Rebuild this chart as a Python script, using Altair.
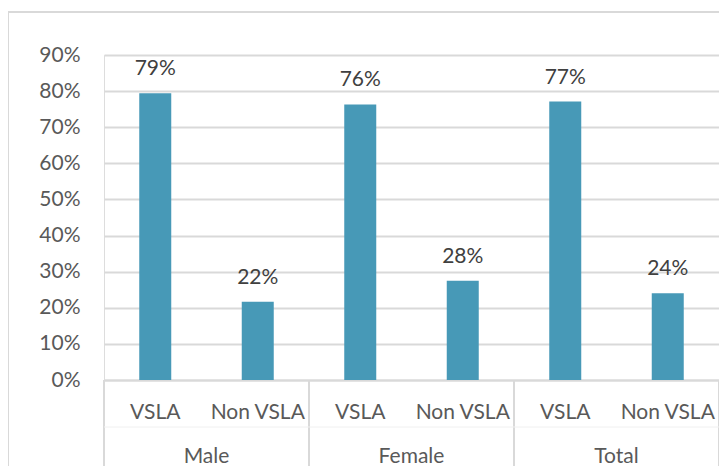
import altair as alt
import pandas as pd

groups = ["Male", "Male", "Female", "Female", "Total", "Total"]
subs = ["VSLA", "Non VSLA", "VSLA", "Non VSLA", "VSLA", "Non VSLA"]
values = [0.794, 0.217, 0.763, 0.275, 0.771, 0.240]
labels = ["79%", "22%", "76%", "28%", "77%", "24%"]
group_names = ["Male", "Female", "Total"]
y_ticks = [0, 0.1, 0.2, 0.3, 0.4, 0.5, 0.6, 0.7, 0.8, 0.9]

cats = [f"{g}|{s}" for g, s in zip(groups, subs)]
df = pd.DataFrame({"cat": cats, "value": values, "label": labels})
first_cats = [f"{g}|VSLA" for g in group_names]
gdf = pd.DataFrame({"cat": first_cats, "group": group_names})
last_df = pd.DataFrame({"cat": [cats[-1]]})

FONT = "Lato"
GRID = "#d9d9d9"
BAR = "#4799b7"

xscale = alt.Scale(domain=cats, paddingInner=0, paddingOuter=0)
yscale = alt.Scale(domain=[0, 0.9], nice=False)
W, H = 615, 325

x_axis = alt.Axis(labelExpr="split(datum.label, '|')[1]", labelAngle=0,
                  ticks=False, domain=True, domainColor=GRID, domainWidth=2,
                  labelPadding=21, labelFont=FONT, labelFontSize=21,
                  labelColor="#595959", grid=False, labelOverlap=False)
y_axis = alt.Axis(format=".0%", values=y_ticks, ticks=False, domain=False,
                  gridColor=GRID, gridWidth=2, labelPadding=24,
                  labelOverlap=False,
                  labelFont=FONT, labelFontSize=21, labelColor="#595959")


def xenc(**kw):
    return alt.X("cat:N", scale=xscale, sort=cats, title=None, axis=x_axis, **kw)


bars = alt.Chart(df).mark_bar(size=32, color=BAR).encode(
    x=xenc(),
    y=alt.Y("value:Q", scale=yscale, title=None, axis=y_axis),
)

text = alt.Chart(df).mark_text(dy=-18, baseline="alphabetic", font=FONT,
                               fontSize=21, color="#404040").encode(
    x=xenc(),
    y=alt.Y("value:Q", scale=yscale, title=None, axis=y_axis),
    text="label:N",
)

group_text = alt.Chart(gdf).mark_text(baseline="alphabetic", font=FONT, fontSize=21,
                                      color="#595959").encode(
    x=xenc(bandPosition=1),
    y=alt.value(H + 83),
    text="group:N",
)

sep_left = alt.Chart(gdf).mark_rule(color=GRID, strokeWidth=2).encode(
    x=xenc(bandPosition=0),
    y=alt.value(H),
    y2=alt.value(H + 100),
)
sep_right = alt.Chart(last_df).mark_rule(color=GRID, strokeWidth=2).encode(
    x=xenc(bandPosition=1),
    y=alt.value(H),
    y2=alt.value(H + 100),
)

faint = alt.Chart(last_df).mark_rule(color="#f0f0f0", strokeWidth=1).encode(
    x=alt.value(0), x2=alt.value(W), y=alt.value(H + 47)
)

border_top = alt.Chart(last_df).mark_rule(color=GRID, strokeWidth=2).encode(
    x=alt.value(-96), x2=alt.value(W + 20), y=alt.value(-43)
)
border_left = alt.Chart(last_df).mark_rule(color=GRID, strokeWidth=2).encode(
    x=alt.value(-96), y=alt.value(-44), y2=alt.value(H + 100)
)

chart = alt.layer(bars, text, sep_left, sep_right, faint, group_text,
                  border_top, border_left).properties(
    width=W, height=H,
    autosize=alt.AutoSizeParams(type="none"),
    padding={"left": 96, "top": 47, "right": 0, "bottom": 86},
).configure_view(stroke=None).configure(background="white")

chart.save("out.html", embed_options={"renderer": "svg", "actions": False})
